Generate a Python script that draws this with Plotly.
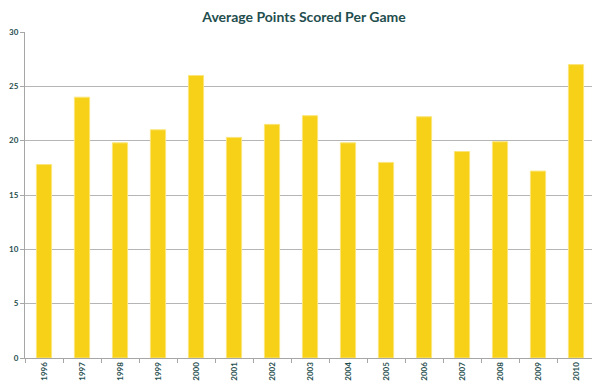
import plotly.graph_objects as go

years = ["1996", "1997", "1998", "1999", "2000", "2001", "2002", "2003",
         "2004", "2005", "2006", "2007", "2008", "2009", "2010"]
points = [17.8, 24.0, 19.8, 21.0, 26.0, 20.3, 21.5, 22.3,
          19.8, 18.0, 22.2, 19.0, 19.9, 17.2, 27.0]
y_ticks = [0, 5, 10, 15, 20, 25, 30]

fig = go.Figure(go.Bar(
    x=years, y=points,
    marker=dict(color="#F7D117", line=dict(color="#FBE57A", width=1)),
    width=0.4,
))

# page body has an 8px margin, so the figure is sized to fit the 600x383 window
fig.update_layout(
    width=592, height=375,
    margin=dict(l=17, r=5, t=24, b=25, autoexpand=False),
    paper_bgcolor="white", plot_bgcolor="white",
    title=dict(text="<b>Average Points Scored Per Game</b>", x=0.5, xanchor="center",
               y=0.99, yanchor="top", automargin=False,
               font=dict(family="Lato", size=14, color="#1F4E4E")),
    showlegend=False,
    bargap=0.6,
)
fig.update_xaxes(
    type="category", showline=True, linecolor="#A6A6A6", linewidth=1,
    ticks="outside", tickson="boundaries", ticklen=4, tickcolor="#A6A6A6",
    tickangle=-90, automargin=False,
    tickfont=dict(family="Lato", size=8, color="#1F4E4E", weight="bold"),
    showgrid=False,
)
fig.update_yaxes(
    range=[0, 30], tickvals=y_ticks, showline=True, linecolor="#A6A6A6", linewidth=1,
    ticks="outside", ticklen=4, tickcolor="#A6A6A6", automargin=False,
    gridcolor="#B5B5B5", gridwidth=1,
    tickfont=dict(family="Lato", size=8, color="#1F4E4E", weight="bold"),
    zeroline=False,
)

fig.write_html("out.html")
